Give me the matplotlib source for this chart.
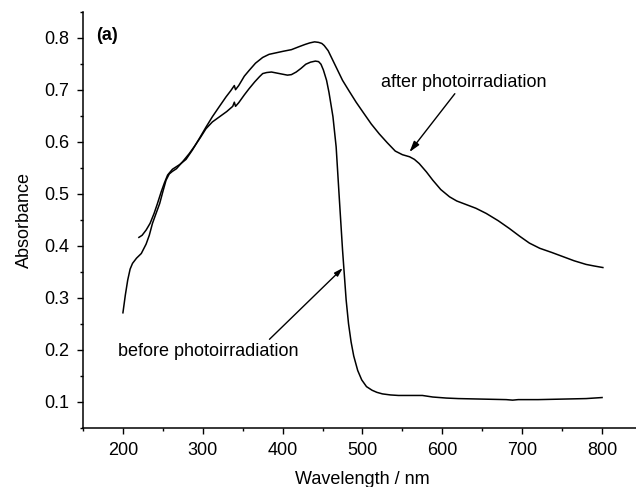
import numpy as np
import matplotlib.pyplot as plt
from matplotlib.ticker import MultipleLocator

plt.rcParams['font.family'] = ['Liberation Sans', 'DejaVu Sans']

# before photoirradiation
wl_before = [200, 203, 206, 209, 212, 217, 223, 229, 233, 237, 241, 246, 250, 254, 258,
             262, 267, 275, 283, 290, 297, 304, 312, 321, 330, 337.5, 339.5, 341, 345,
             352, 358, 365, 371, 375, 380, 386, 396, 406, 411, 417, 423, 429, 435, 441,
             445, 448, 451, 455, 458, 461, 463, 467, 471, 475, 479.5, 482.5, 485.7, 489,
             494, 499, 505, 512, 518, 525, 535, 545, 556, 567, 575, 588, 605, 620, 650,
             680, 688, 695, 720, 750, 780, 800]
abs_before = [0.271, 0.305, 0.334, 0.355, 0.366, 0.376, 0.385, 0.403, 0.42, 0.443, 0.46,
              0.481, 0.504, 0.526, 0.538, 0.543, 0.548, 0.562, 0.577, 0.592, 0.608, 0.625,
              0.638, 0.648, 0.658, 0.668, 0.676, 0.668, 0.675, 0.69, 0.702, 0.715, 0.725,
              0.731, 0.733, 0.734, 0.731, 0.728, 0.729, 0.734, 0.741, 0.749, 0.753, 0.755,
              0.754, 0.749, 0.738, 0.718, 0.695, 0.667, 0.648, 0.59, 0.49, 0.392, 0.296,
              0.25, 0.215, 0.188, 0.16, 0.142, 0.129, 0.122, 0.118, 0.115, 0.113, 0.112,
              0.112, 0.112, 0.112, 0.109, 0.107, 0.106, 0.105, 0.104, 0.103, 0.104, 0.104,
              0.105, 0.106, 0.108]

# after photoirradiation
wl_after = [220, 224, 229, 234, 239, 243, 248, 252, 256, 262, 271, 279, 287, 296, 304,
            312, 320, 329, 335, 339.5, 341, 345, 352, 358, 366, 375, 383, 392, 401, 411,
            421, 428, 434, 440, 445, 449, 452, 457, 463, 469, 475, 483, 492, 501, 511,
            521, 531, 541, 550, 559, 565, 571, 580, 588, 598, 609, 618, 630, 642, 655,
            670, 684, 697, 709, 722, 737, 751, 765, 780, 790, 801]
abs_after = [0.416, 0.42, 0.43, 0.443, 0.462, 0.48, 0.504, 0.521, 0.536, 0.547, 0.556,
             0.566, 0.584, 0.607, 0.628, 0.648, 0.666, 0.686, 0.698, 0.708, 0.700, 0.708,
             0.726, 0.737, 0.751, 0.762, 0.768, 0.771, 0.774, 0.777, 0.783, 0.787, 0.790,
             0.792, 0.791, 0.789, 0.785, 0.775, 0.756, 0.737, 0.718, 0.698, 0.676, 0.656,
             0.634, 0.615, 0.598, 0.582, 0.575, 0.571, 0.566, 0.558, 0.542, 0.526, 0.508,
             0.494, 0.486, 0.479, 0.472, 0.462, 0.448, 0.433, 0.418, 0.405, 0.395, 0.387,
             0.379, 0.371, 0.364, 0.361, 0.358]

FS = 13

fig = plt.figure(figsize=(6.36, 4.87), dpi=100)
ax = fig.add_axes([83 / 636, 1 - 427.7 / 487, 559 / 636, 416 / 487])

ax.plot(wl_before, abs_before, color='black', lw=1.1)
ax.plot(wl_after, abs_after, color='black', lw=1.1)

ax.set_xlim(150, 850)
ax.set_ylim(0.05, 0.85)
ax.set_xticks([200, 300, 400, 500, 600, 700, 800])
ax.xaxis.set_minor_locator(MultipleLocator(50))
ax.yaxis.set_major_locator(MultipleLocator(0.1))
ax.yaxis.set_minor_locator(MultipleLocator(0.05))

for s in ['top', 'right']:
    ax.spines[s].set_visible(False)
for s in ['left', 'bottom']:
    ax.spines[s].set_linewidth(1.1)
ax.tick_params(which='major', direction='out', length=4, width=1.0, labelsize=FS, pad=6)
ax.tick_params(which='minor', direction='out', length=2.5, width=1.0)

ax.set_xlabel('Wavelength / nm', fontsize=FS, labelpad=9)
ax.set_ylabel('Absorbance', fontsize=FS, labelpad=8)

ax.text(166, 0.805, '(a)', fontsize=FS, fontweight='bold', va='center', ha='left')

arrow = dict(arrowstyle='-|>,head_length=0.5,head_width=0.15', color='black', lw=1.0,
             shrinkA=0, shrinkB=0)
ax.annotate('after photoirradiation', xy=(558.8, 0.580), xytext=(626.6, 0.714),
            fontsize=FS, ha='center', va='center', arrowprops=arrow)
ax.annotate('', xy=(475.3, 0.357), xytext=(383.5, 0.220), arrowprops=arrow)
ax.text(306.7, 0.197, 'before photoirradiation', fontsize=FS, ha='center', va='center')

fig.savefig('out.png', dpi=100)
